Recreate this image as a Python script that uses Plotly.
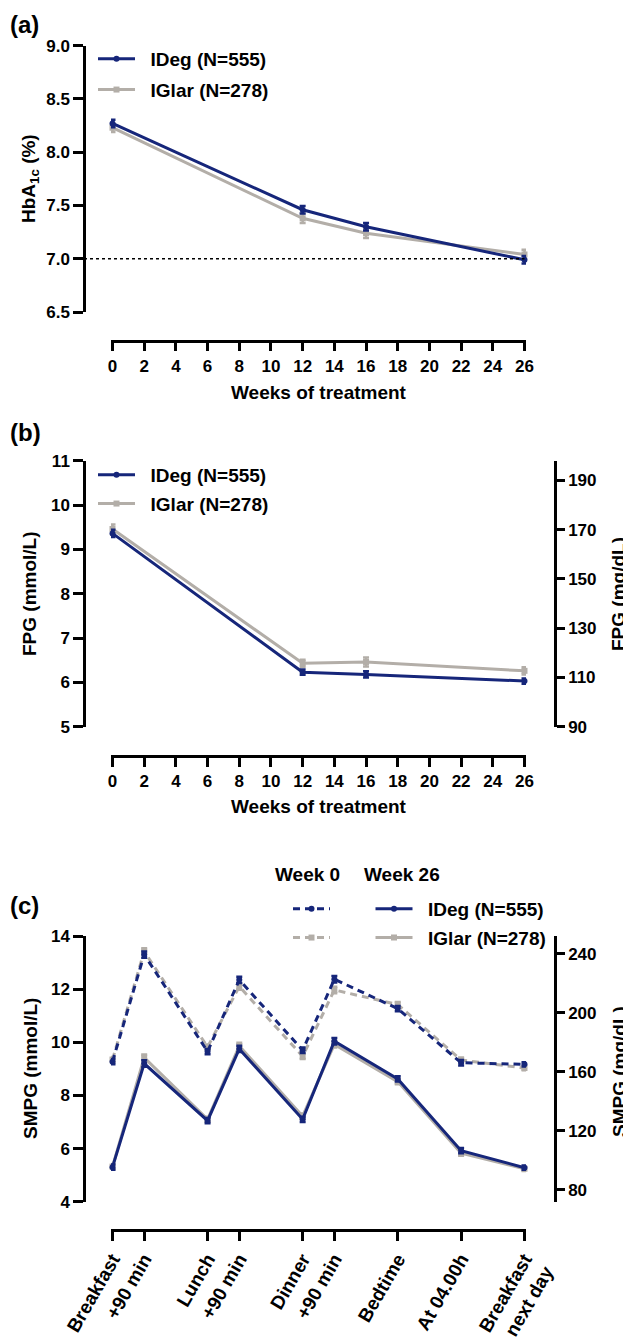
import plotly.graph_objects as go

# ---------------- data ----------------
weeks = [0, 12, 16, 26]
week_ticks = list(range(0, 27, 2))

hba1c_ideg = [8.27, 7.46, 7.30, 6.99]
hba1c_ideg_se = [0.035, 0.035, 0.035, 0.035]
hba1c_iglar = [8.23, 7.38, 7.24, 7.04]
hba1c_iglar_se = [0.04, 0.045, 0.045, 0.045]

fpg_ideg = [9.36, 6.23, 6.18, 6.03]
fpg_ideg_se = [0.08, 0.06, 0.07, 0.06]
fpg_iglar = [9.46, 6.43, 6.46, 6.26]
fpg_iglar_se = [0.1, 0.08, 0.1, 0.08]

smpg_points = ["Breakfast", "+90 min", "Lunch", "+90 min", "Dinner", "+90 min",
               "Bedtime", "At 04.00h", "Breakfast<br>next day"]
smpg_time_pos = [0, 1, 3, 4, 6, 7, 9, 11, 13]
smpg_ideg_w0 = [9.27, 13.30, 9.65, 12.35, 9.70, 12.37, 11.27, 9.23, 9.17]
smpg_iglar_w0 = [9.35, 13.42, 9.82, 12.10, 9.47, 11.97, 11.42, 9.33, 9.03]
smpg_ideg_w26 = [5.30, 9.20, 7.05, 9.75, 7.10, 10.04, 8.62, 5.92, 5.28]
smpg_iglar_w26 = [5.32, 9.42, 7.10, 9.86, 7.22, 9.92, 8.52, 5.83, 5.24]
smpg_se = [0.1, 0.12, 0.1, 0.12, 0.1, 0.12, 0.1, 0.1, 0.08]

MGDL_PER_MMOL = 18.0

# ---------------- style ----------------
W, H = 631, 1338          # browser window
OFF = 8                   # default page margin around the plot div
FW, FH = W - OFF, H - OFF  # figure size so that it fits the window exactly
NAVY = "#16267a"
GREY = "#b3aea8"
FONT = "Liberation Sans, Arial, sans-serif"


def px(x):
    """window pixel x -> paper fraction"""
    return (x - OFF) / FW


def py(y):
    """window pixel y -> paper fraction"""
    return 1 - (y - OFF) / FH


fig = go.Figure()


def add_series(x, y, err, color, symbol, name, xa, ya, legend, dash="solid", rank=1, group=None):
    fig.add_trace(go.Scatter(
        x=x, y=y, name=name, mode="lines+markers",
        xaxis=xa, yaxis=ya, legend=legend, legendrank=rank, legendgroup=group or name + legend,
        line=dict(color=color, width=3, dash=dash),
        marker=dict(color=color, size=6, symbol=symbol),
        error_y=dict(type="data", array=err, color=color, thickness=2.5, width=3),
        cliponaxis=False,
    ))


def add_mgdl_axis_carrier(x, y_mmol, xa, ya):
    # invisible copy in mg/dL so that the right-hand axis is drawn
    fig.add_trace(go.Scatter(
        x=x, y=[v * MGDL_PER_MMOL for v in y_mmol], xaxis=xa, yaxis=ya, mode="lines",
        line=dict(width=0, color="rgba(0,0,0,0)"), showlegend=False, hoverinfo="skip",
    ))


LBL_IDEG = "\u00a0\u00a0IDeg (N=555)"
LBL_IGLAR = "\u00a0\u00a0IGlar (N=278)"

# panel (a)
add_series(weeks, hba1c_iglar, hba1c_iglar_se, GREY, "square", LBL_IGLAR, "x", "y", "legend", rank=2)
add_series(weeks, hba1c_ideg, hba1c_ideg_se, NAVY, "circle", LBL_IDEG, "x", "y", "legend", rank=1)
# panel (b)
add_mgdl_axis_carrier(weeks, fpg_ideg, "x2", "y3")
add_series(weeks, fpg_iglar, fpg_iglar_se, GREY, "square", LBL_IGLAR, "x2", "y2", "legend2", rank=2)
add_series(weeks, fpg_ideg, fpg_ideg_se, NAVY, "circle", LBL_IDEG, "x2", "y2", "legend2", rank=1)
# panel (c)
add_mgdl_axis_carrier(smpg_time_pos, smpg_ideg_w26, "x3", "y5")
add_series(smpg_time_pos, smpg_iglar_w0, smpg_se, GREY, "square", " ", "x3", "y4", "legend3",
           dash="7px,5px", rank=2, group="g0")
add_series(smpg_time_pos, smpg_ideg_w0, smpg_se, NAVY, "circle", " ", "x3", "y4", "legend3",
           dash="7px,5px", rank=1, group="d0")
add_series(smpg_time_pos, smpg_iglar_w26, smpg_se, GREY, "square", LBL_IGLAR, "x3", "y4", "legend4", rank=2)
add_series(smpg_time_pos, smpg_ideg_w26, smpg_se, NAVY, "circle", LBL_IDEG, "x3", "y4", "legend4", rank=1)

AX = dict(showline=True, linecolor="black", linewidth=2.5, ticks="outside", tickcolor="black",
          tickwidth=2.5, showgrid=False, zeroline=False, tickfont=dict(size=17, color="black"),
          fixedrange=True, automargin=False)

x_left, x_right = 111.0, 526.0
pad_w = 1.5 / ((524.5 - 112.5) / 26)
pad_c = 1.5 / ((524.5 - 112.5) / 13)

xweeks = dict(AX, domain=[px(x_left), px(x_right)], range=[-pad_w, 26 + pad_w],
              tickvals=week_ticks, ticklen=9, anchor="free")

LEG = dict(font=dict(size=19, color="black"), bgcolor="rgba(0,0,0,0)", xanchor="left",
           yanchor="top", itemsizing="trace", traceorder="grouped", itemwidth=37, tracegroupgap=1)

fig.update_layout(
    template="none",
    width=FW, height=FH, margin=dict(l=0, r=0, t=0, b=0, autoexpand=False),
    paper_bgcolor="white", plot_bgcolor="white",
    font=dict(family=FONT, size=17, color="black", weight="bold"),
    xaxis=dict(xweeks, position=py(340.7)),
    yaxis=dict(AX, domain=[py(312), py(45.7)], range=[6.5, 9.0], dtick=0.5, tickformat=".1f",
               anchor="free", position=px(84), ticklen=10),
    xaxis2=dict(xweeks, position=py(756)),
    yaxis2=dict(AX, domain=[py(726.7), py(460.7)], range=[5, 11], dtick=1,
                anchor="free", position=px(84), ticklen=10),
    yaxis3=dict(AX, overlaying="y2", side="right", anchor="free", position=px(555),
                range=[5 * MGDL_PER_MMOL, 11 * MGDL_PER_MMOL], tickvals=list(range(90, 191, 20)), ticklen=8),
    xaxis3=dict(AX, domain=[px(x_left), px(x_right)], range=[-pad_c, 13 + pad_c],
                tickvals=smpg_time_pos, ticktext=smpg_points, tickangle=-60, ticklen=9,
                anchor="free", position=py(1230), tickfont=dict(size=19, color="black")),
    yaxis4=dict(AX, domain=[py(1201.7), py(936)], range=[4, 14], dtick=2,
                anchor="free", position=px(84), ticklen=10),
    yaxis5=dict(AX, overlaying="y4", side="right", anchor="free", position=px(555),
                range=[4 * MGDL_PER_MMOL, 14 * MGDL_PER_MMOL], tickvals=list(range(80, 241, 40)), ticklen=8),
    legend=dict(LEG, x=px(93), y=py(40), tracegroupgap=3),
    legend2=dict(LEG, x=px(93), y=py(456)),
    legend3=dict(LEG, x=px(288), y=py(890)),
    legend4=dict(LEG, x=px(370.5), y=py(890)),
    showlegend=True,
)

# reference line at HbA1c 7.0 %
fig.add_shape(type="line", xref="paper", yref="y", x0=px(84), x1=px(524.5), y0=7.0, y1=7.0,
              line=dict(color="black", width=1.3, dash="3px,3px"))

TXT = dict(showarrow=False, font=dict(size=19, color="black"), xref="paper", yref="paper")
ann = [
    dict(TXT, text="(a)", x=px(8), y=py(24), xanchor="left", yanchor="middle", font=dict(size=24)),
    dict(TXT, text="(b)", x=px(8), y=py(432), xanchor="left", yanchor="middle", font=dict(size=24)),
    dict(TXT, text="(c)", x=px(8), y=py(905), xanchor="left", yanchor="middle", font=dict(size=24)),
    dict(TXT, text="Weeks of treatment", x=px(318.5), y=py(392.7), xanchor="center", yanchor="middle"),
    dict(TXT, text="Weeks of treatment", x=px(318.5), y=py(806.7), xanchor="center", yanchor="middle"),
    dict(TXT, text="HbA<sub>1c</sub> (%)", x=px(30), y=py(179), textangle=-90,
         xanchor="center", yanchor="middle"),
    dict(TXT, text="FPG (mmol/L)", x=px(30), y=py(594), textangle=-90, xanchor="center", yanchor="middle"),
    dict(TXT, text="FPG (mg/dL)", x=px(619), y=py(594), textangle=-90, xanchor="center", yanchor="middle"),
    dict(TXT, text="SMPG (mmol/L)", x=px(30), y=py(1069), textangle=-90, xanchor="center", yanchor="middle"),
    dict(TXT, text="SMPG (mg/dL)", x=px(619), y=py(1072), textangle=-90, xanchor="center", yanchor="middle"),
    dict(TXT, text="Week 0", x=px(307), y=py(874), xanchor="center", yanchor="middle"),
    dict(TXT, text="Week 26", x=px(402), y=py(874), xanchor="center", yanchor="middle"),
]
fig.update_layout(annotations=ann)

fig.write_html("out.html")
